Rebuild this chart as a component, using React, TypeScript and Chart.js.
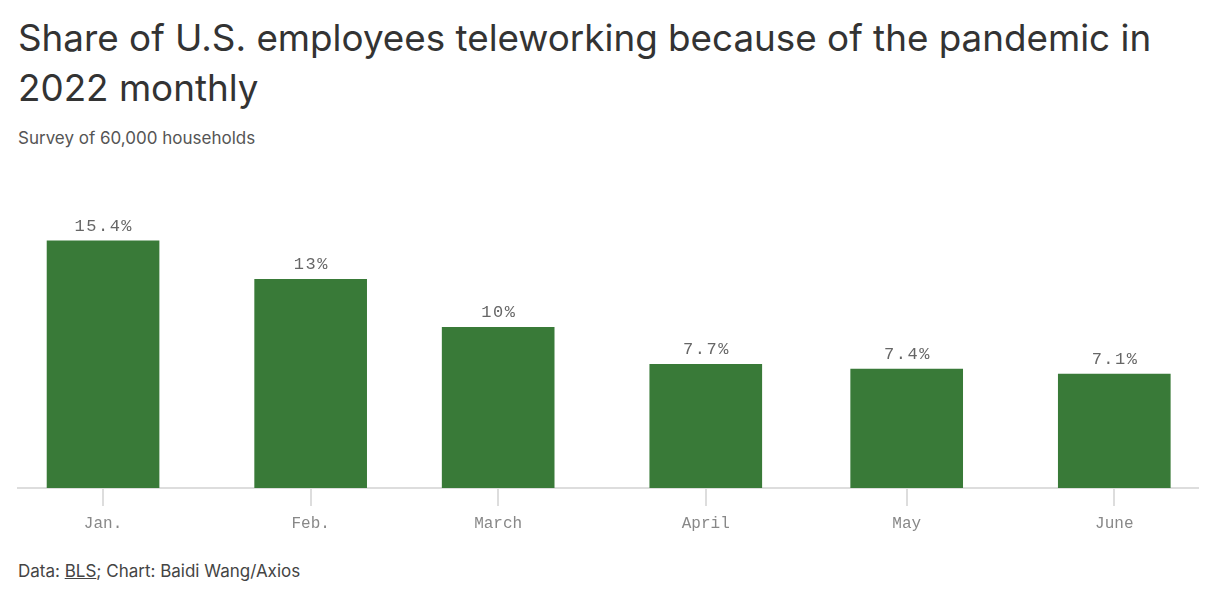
import React, { useEffect, useRef } from "react";
import { Chart, registerables } from "chart.js";

Chart.register(...registerables);

// Day-of-year position of each month (2022) — drives the time-proportional spacing
const monthDays = [0, 31, 59, 90, 120, 151];
const monthLabels = ["Jan.", "Feb.", "March", "April", "May", "June"];
const shareValues = [15.4, 13, 10, 7.7, 7.4, 7.1];
const valueLabels = ["15.4%", "13%", "10%", "7.7%", "7.4%", "7.1%"];

const GREEN = "#397a38";
const MONO = "'Liberation Mono', 'DejaVu Sans Mono', monospace";
const SANS = "Inter, 'Noto Sans', sans-serif";

const valueLabelPlugin = {
  id: "valueLabels",
  afterDatasetsDraw(chart: any) {
    const ctx = chart.ctx;
    const meta = chart.getDatasetMeta(0);
    ctx.save();
    ctx.font = `17px ${MONO}`;
    (ctx as any).letterSpacing = "1.5px";
    ctx.fillStyle = "#666666";
    ctx.textAlign = "center";
    ctx.textBaseline = "alphabetic";
    meta.data.forEach((el: any, i: number) => {
      ctx.fillText(valueLabels[i], el.x + 0.75, el.y - 10);
    });
    ctx.restore();
  },
};

export default function App() {
  const ref = useRef<HTMLCanvasElement | null>(null);

  useEffect(() => {
    if (!ref.current) return;
    const chart = new Chart(ref.current, {
      type: "bar",
      data: {
        datasets: [
          {
            data: monthDays.map((d, i) => ({ x: d, y: shareValues[i] })),
            backgroundColor: GREEN,
            barThickness: 112,
            borderWidth: 0,
          },
        ],
      },
      options: {
        animation: false,
        responsive: false,
        maintainAspectRatio: false,
        layout: { padding: { left: 18, right: 18, top: 19, bottom: 0 } },
        plugins: {
          legend: { display: false },
          tooltip: { enabled: false },
          title: { display: false },
        },
        scales: {
          x: {
            type: "linear",
            min: -12.7,
            max: 163.5,
            offset: false,
            border: { display: true, color: "#dddddd", width: 2 },
            grid: {
              display: true,
              offset: false,
              drawOnChartArea: false,
              drawTicks: true,
              tickLength: 18,
              color: "#dddddd",
              lineWidth: 2,
            },
            afterBuildTicks(scale: any) {
              scale.ticks = monthDays.map((v) => ({ value: v }));
            },
            afterFit(scale: any) {
              scale.height = 60;
            },
            ticks: {
              autoSkip: false,
              maxRotation: 0,
              padding: 8,
              color: "#888888",
              font: { family: MONO, size: 16 },
              callback: (_v: any, i: number) => monthLabels[i],
            },
          },
          y: {
            display: false,
            min: 0,
            max: 18,
          },
        },
      },
      plugins: [valueLabelPlugin],
    });
    return () => chart.destroy();
  }, []);

  return (
    <div
      style={{
        position: "absolute",
        left: 0,
        top: 0,
        width: 1216,
        height: 601,
        background: "#ffffff",
        fontFamily: SANS,
      }}
    >
      <div
        style={{
          position: "absolute",
          left: 18,
          top: 13,
          width: 1180,
          fontSize: 36.8,
          lineHeight: "50px",
          color: "#333333",
          fontWeight: 400,
        }}
      >
        Share of U.S. employees teleworking because of the pandemic in 2022 monthly
      </div>
      <div
        style={{
          position: "absolute",
          left: 18,
          top: 127,
          fontSize: 17,
          lineHeight: "22px",
          color: "#555555",
        }}
      >
        Survey of 60,000 households
      </div>
      <canvas
        ref={ref}
        width={1216}
        height={368}
        style={{ position: "absolute", left: 0, top: 180, width: 1216, height: 368 }}
      />
      <div
        style={{
          position: "absolute",
          left: 18,
          top: 560,
          fontSize: 17,
          lineHeight: "22px",
          color: "#444444",
        }}
      >
        Data: <span style={{ textDecoration: "underline" }}>BLS</span>; Chart: Baidi Wang/Axios
      </div>
    </div>
  );
}
